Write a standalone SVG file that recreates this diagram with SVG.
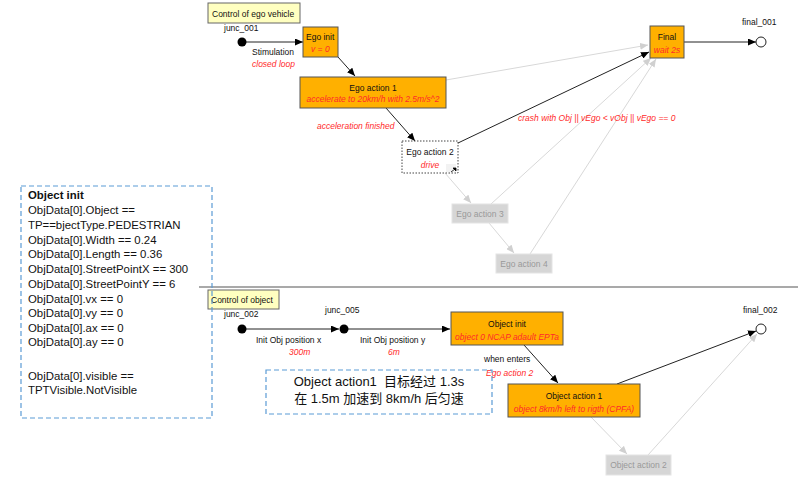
<svg xmlns="http://www.w3.org/2000/svg" width="809" height="481" viewBox="0 0 809 481">
<defs>
<marker id="ab" markerUnits="userSpaceOnUse" markerWidth="8" markerHeight="7" refX="8" refY="3.5" orient="auto"><path d="M0,0 L8,3.5 L0,7 z" fill="#000"/></marker>
<marker id="ag" markerUnits="userSpaceOnUse" markerWidth="8" markerHeight="7" refX="8" refY="3.5" orient="auto"><path d="M0,0 L8,3.5 L0,7 z" fill="#d0d0d0"/></marker>
<style>
.t{font-family:"Liberation Sans",Arial,sans-serif;font-size:8.5px;fill:#111}
.r{font-family:"Liberation Sans",Arial,sans-serif;font-size:8.5px;fill:#ff2a2a;font-style:italic}
.g{font-family:"Liberation Sans",Arial,sans-serif;font-size:8.5px;fill:#999}
.st{fill:#ffb000;stroke:#555;stroke-width:1}
.gb{fill:#d6d6d6;stroke:#e4e4e4;stroke-width:1}
.note{fill:#ffffc0;stroke:#666;stroke-width:1}
.cb{stroke:#222;stroke-width:1;fill:none;marker-end:url(#ab)}
.cg{stroke:#d8d8d8;stroke-width:1;fill:none;marker-end:url(#ag)}
.dash{fill:none;stroke:#5b9bd5;stroke-width:1.2;stroke-dasharray:5,3}
.c{font-family:"Liberation Sans",Arial,sans-serif;font-size:11.4px;fill:#111}
.z{font-family:"Liberation Sans","Noto Sans CJK SC",sans-serif;font-size:13px;fill:#111}
</style>
</defs>
<rect width="809" height="481" fill="#fff"/>
<line x1="199" y1="287" x2="798" y2="287" stroke="#555" stroke-width="1.2"/>

<g id="connectors">
<path class="cg" d="M446,80 L648,45"/>
<path class="cg" d="M445,173 L471,203"/>
<path class="cg" d="M489,223 L514,253"/>
<path class="cg" d="M491,204 L651,58"/>
<path class="cg" d="M530,254 L656,59"/>
<path class="cg" d="M591,417 L627,454"/>
<path class="cg" d="M648,455 L757,334"/>
<path class="cb" d="M246,42 L303,42"/>
<path class="cb" d="M338,57 L355,76"/>
<path class="cb" d="M386,108 L415,141"/>
<path class="cb" d="M458,143 L649,52"/>
<path class="cb" d="M684,42 L756,42"/>
<path class="cb" d="M246,329 L339,329"/>
<path class="cb" d="M348,329 L450,329"/>
<path class="cb" d="M524,345 L558,383"/>
<path class="cb" d="M617,384 L756,331"/>
<text class="t" x="252" y="55">Stimulation</text>
<text class="r" x="252" y="67">closed loop</text>
<text class="r" x="317" y="129">acceleration finished</text>
<text class="r" x="518" y="121">crash with Obj || vEgo &lt; vObj || vEgo == 0</text>
<text class="t" x="256" y="343">Init Obj position x</text>
<text class="r" x="289" y="355">300m</text>
<text class="t" x="360" y="343">Init Obj position y</text>
<text class="r" x="388" y="355">6m</text>
<text class="t" x="484" y="362">when enters</text>
<text class="r" x="486" y="376">Ego action 2</text>
</g>

<g id="junc_001">
<text class="t" x="224" y="31">junc_001</text>
<circle cx="242" cy="42" r="4.5" fill="#000"/>
</g>
<g id="control_ego">
<rect class="note" x="208" y="3" width="92" height="20"/>
<text class="t" x="212" y="16.5">Control of ego vehicle</text>
</g>
<g id="ego_init">
<rect class="st" x="303" y="27" width="35" height="30"/>
<text class="t" x="306" y="40">Ego init</text>
<text class="r" x="311" y="52">v = 0</text>
</g>
<g id="ego_action_1">
<rect class="st" x="300" y="77" width="146" height="31"/>
<text class="t" x="373" y="91" text-anchor="middle">Ego action 1</text>
<text class="r" x="373" y="102" text-anchor="middle">accelerate to 20km/h with 2.5m/s^2</text>
</g>
<g id="ego_action_2">
<rect x="402" y="141" width="56" height="32" fill="#fff" stroke="#444" stroke-width="1" stroke-dasharray="1.5,1.5"/>
<text class="t" x="430" y="155" text-anchor="middle">Ego action 2</text>
<text class="r" x="430" y="168" text-anchor="middle">drive</text>
<rect x="446" y="164" width="10" height="8" fill="#f2f2f2"/>
<path d="M453,168 L456,168 L456,171 z M451,172 L455,169" fill="#000" stroke="#000" stroke-width="0.8"/>
</g>
<g id="ego_action_3">
<rect class="gb" x="452" y="204" width="56" height="19"/>
<text class="g" x="480" y="217" text-anchor="middle">Ego action 3</text>
</g>
<g id="ego_action_4">
<rect class="gb" x="496" y="254" width="56" height="19"/>
<text class="g" x="524" y="267" text-anchor="middle">Ego action 4</text>
</g>
<g id="final">
<rect class="st" x="650" y="26" width="34" height="32"/>
<text class="t" x="667" y="40" text-anchor="middle">Final</text>
<text class="r" x="667" y="53" text-anchor="middle">wait 2s</text>
</g>
<g id="final_001">
<text class="t" x="742" y="25">final_001</text>
<circle cx="761" cy="42" r="5" fill="#fff" stroke="#222" stroke-width="1"/>
</g>

<g id="junc_002">
<text class="t" x="224" y="317">junc_002</text>
<circle cx="242" cy="329" r="4.5" fill="#000"/>
</g>
<g id="control_object">
<rect class="note" x="208" y="290" width="71" height="19"/>
<text class="t" x="211" y="303">Control of object</text>
</g>
<g id="junc_005">
<text class="t" x="325" y="313">junc_005</text>
<circle cx="344" cy="329" r="4.5" fill="#000"/>
</g>
<g id="object_init">
<rect class="st" x="451" y="312" width="112" height="33"/>
<text class="t" x="507" y="327" text-anchor="middle">Object init</text>
<text class="r" x="507" y="340" text-anchor="middle">object 0 NCAP adault EPTa</text>
</g>
<g id="object_action_1">
<rect class="st" x="508" y="384" width="132" height="33"/>
<text class="t" x="574" y="399" text-anchor="middle">Object action 1</text>
<text class="r" x="574" y="412" text-anchor="middle">object 8km/h left to rigth (CPFA)</text>
</g>
<g id="object_action_2">
<rect class="gb" x="606" y="455" width="65" height="20"/>
<text class="g" x="638.5" y="468" text-anchor="middle">Object action 2</text>
</g>
<g id="final_002">
<text class="t" x="743" y="313">final_002</text>
<circle cx="761" cy="329" r="5" fill="#fff" stroke="#222" stroke-width="1"/>
</g>

<g id="note_object_init">
<rect class="dash" x="21" y="186" width="191" height="232"/>
<text class="c" x="28" y="199" font-weight="bold">Object init</text>
<text class="c" x="28" y="214">ObjData[0].Object ==</text>
<text class="c" x="28" y="229">TP==bjectType.PEDESTRIAN</text>
<text class="c" x="28" y="244">ObjData[0].Width == 0.24</text>
<text class="c" x="28" y="258">ObjData[0].Length == 0.36</text>
<text class="c" x="28" y="273">ObjData[0].StreetPointX == 300</text>
<text class="c" x="28" y="288">ObjData[0].StreetPointY == 6</text>
<text class="c" x="28" y="303">ObjData[0].vx == 0</text>
<text class="c" x="28" y="317">ObjData[0].vy == 0</text>
<text class="c" x="28" y="332">ObjData[0].ax == 0</text>
<text class="c" x="28" y="346">ObjData[0].ay == 0</text>
<text class="c" x="28" y="380">ObjData[0].visible ==</text>
<text class="c" x="28" y="394">TPTVisible.NotVisible</text>
</g>
<g id="note_object_action1">
<rect class="dash" x="266" y="370" width="226" height="44"/>
<text class="z" x="379" y="386" text-anchor="middle">Object action1&#160; 目标经过 1.3s</text>
<text class="z" x="379" y="403" text-anchor="middle">在 1.5m 加速到 8km/h 后匀速</text>
</g>
</svg>
